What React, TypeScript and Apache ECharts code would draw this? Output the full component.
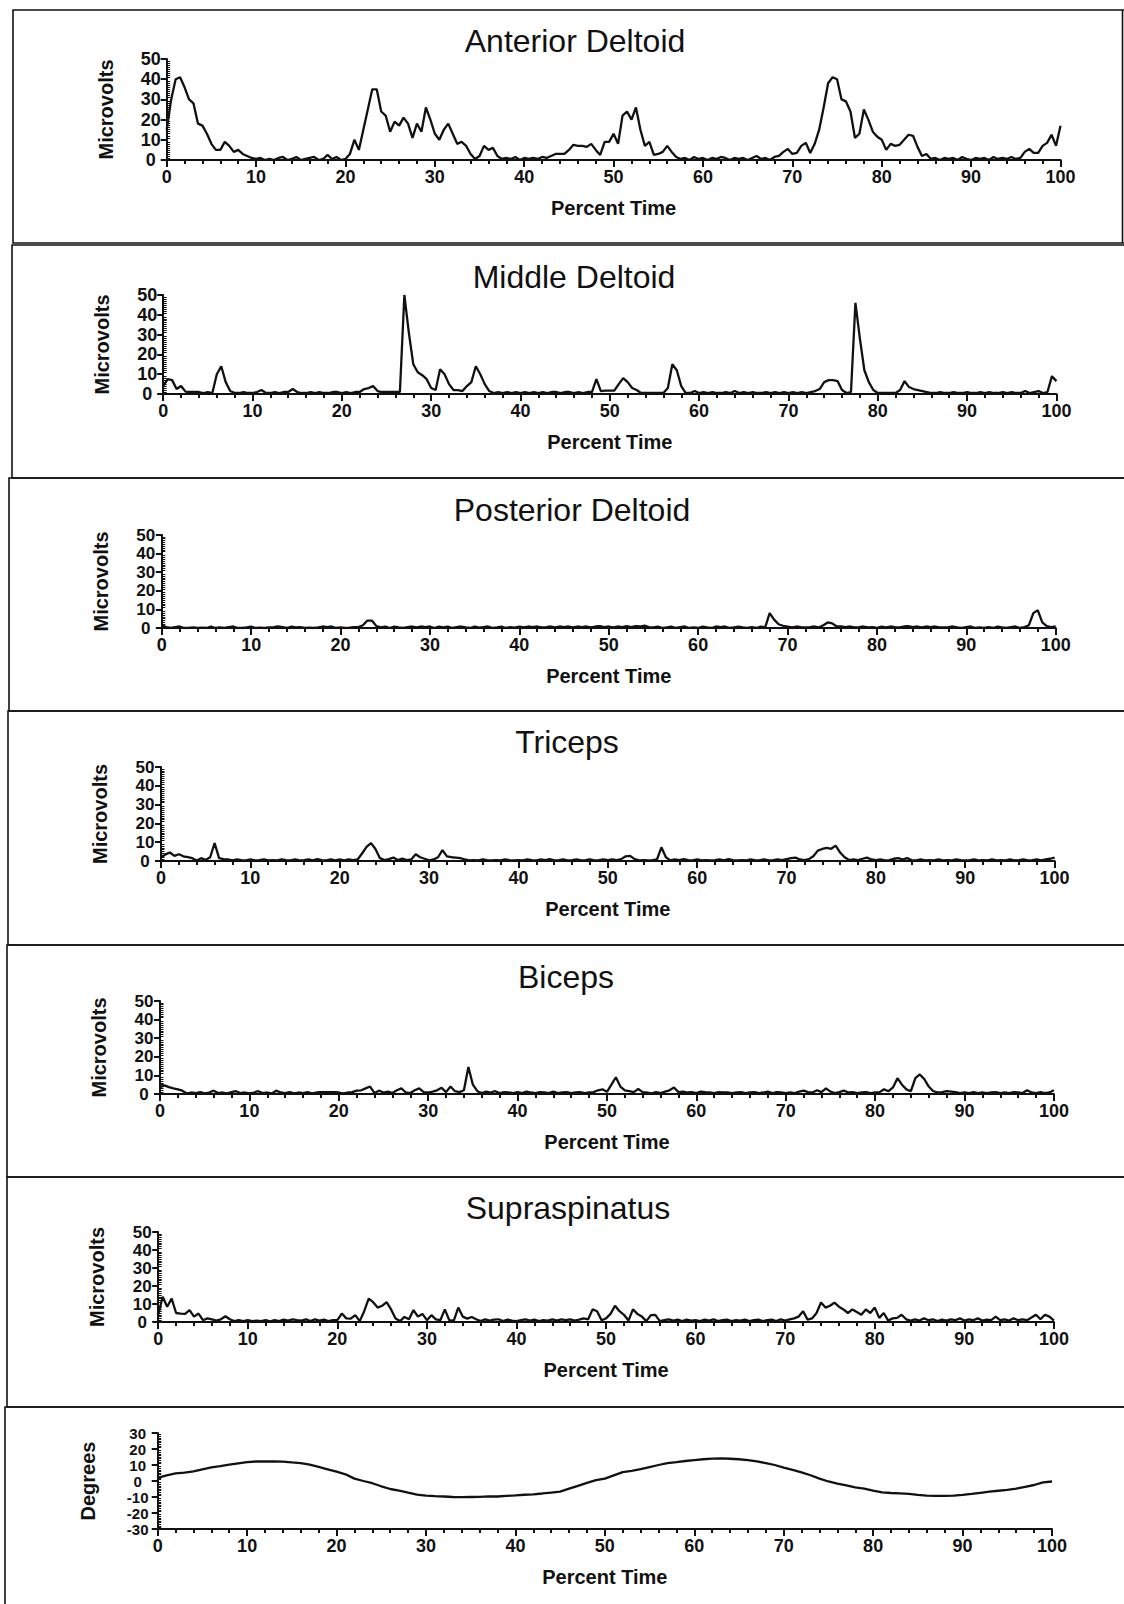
import React, { useEffect, useRef } from "react";
import * as echarts from "echarts";

// ---------- data ----------
// sample grid for the EMG traces: percent time 0, 0.5, 1, ... 100
const PERCENT_TIME: number[] = Array.from({ length: 201 }, (_, i) => i / 2);
// sample grid for the joint angle trace: 0, 1, ... 100
const DEGREE_TIME: number[] = Array.from({ length: 101 }, (_, i) => i);

const PANEL_TITLES = [
  "Anterior Deltoid",
  "Middle Deltoid",
  "Posterior Deltoid",
  "Triceps",
  "Biceps",
  "Supraspinatus",
];

const ANTERIOR_DELTOID = [
  15, 30, 40, 41, 36, 30, 28, 18, 17, 13, 8, 5, 5, 9, 7, 4, 5, 3, 2, 1,
  0.5, 1, 0, 0.5, 0, 1, 1.5, 0, 0.5, 1.5, 0, 0.5, 1, 1.5, 0, 0.5, 2.5, 0.5, 1.5, 0,
  0.5, 3, 10, 5, 15, 25, 35, 35, 24, 22, 14, 19, 17, 21, 18, 11, 18, 14, 26, 20,
  13, 10, 15, 18, 13, 8, 9, 7, 3, 0.5, 2, 7, 5, 6, 2, 0.5, 1, 0.5, 1.5, 0,
  1, 0.5, 1, 0.5, 1.5, 1, 2, 3, 3, 3, 5, 7.5, 7, 7, 6.5, 8, 5, 2.5, 9, 9,
  13, 8, 22, 24, 20, 26, 15, 7, 9, 2.5, 3, 4, 7, 4, 1.5, 0.5, 1, 0, 1.5, 0.5,
  1, 0, 1, 0.5, 1.5, 1, 0, 1, 0.5, 1, 0, 1, 2, 0.5, 1, 0, 1.5, 2, 4, 5.5,
  3, 3.5, 7, 8.5, 3.5, 8, 15, 26, 38, 41, 40, 30, 29, 24, 11, 13, 25, 20, 14, 11.5,
  10, 5, 8, 7, 7.5, 10, 12.5, 12, 6.5, 2, 3, 0.5, 1, 0, 1, 0.5, 1, 0, 1.5, 0.5,
  0, 1, 0.5, 1, 0, 1.5, 0.5, 1, 0.5, 1.5, 0.5, 1, 4, 5.5, 3.5, 3.5, 7, 8.5, 12.5, 7,
  17,
];

const MIDDLE_DELTOID = [
  4, 7.5, 7, 2.5, 4, 1.2, 1, 1, 1, 0.5, 1, 0.5, 10, 14, 6, 1.5, 0.5, 0.5, 1, 0.5,
  0.5, 1, 2, 0.5, 0.5, 1, 0.5, 1, 1, 2.5, 1, 0.5, 0.5, 1, 0.5, 1, 0.5, 0.5, 1, 1,
  0.5, 1, 0.5, 1, 1, 2.5, 3, 4, 1.5, 1, 1, 1, 1, 1, 50, 31, 15, 11, 9.5, 7.5,
  3, 2, 12.5, 10, 5, 2, 2, 1.5, 4, 6, 14, 10, 5, 1.5, 0.5, 1, 0.5, 1, 0.5, 1,
  0.5, 1, 0.5, 1, 0.5, 1, 0.5, 1, 1, 0.5, 1, 1, 0.5, 1, 0.5, 1, 1, 7.5, 1.5, 1.7,
  1.7, 1.7, 5, 8, 6, 3, 2, 0.5, 0.5, 0.5, 0.5, 0.5, 0.5, 3, 15, 12, 4, 0.5, 0.5, 1.5,
  0.5, 1, 0.5, 1, 0.5, 0.5, 1, 0.5, 1.5, 0.5, 1, 0.5, 1, 0.5, 0.5, 1, 0.5, 1, 0.5, 1,
  0.5, 1, 0.5, 1, 0.5, 1, 1.5, 2.5, 6, 7, 7, 6.5, 2, 0.5, 1, 46, 28, 12, 6, 2,
  0.5, 0.5, 0.5, 0.5, 0.5, 2, 6.5, 3.5, 2.5, 2, 1.5, 1, 0.5, 0.5, 1, 0.5, 0.5, 1, 0.5, 0.5,
  1, 0.5, 0.5, 1, 0.5, 1, 0.5, 0.5, 1, 0.5, 1, 0.5, 0.5, 1.5, 0.5, 1, 1.5, 0.5, 1, 9,
  6.5,
];

const POSTERIOR_DELTOID = [
  1.5, 0.5, 0, 0.5, 0.8, 0, 0, 0.3, 0, 0.2, 0, 0.8, 0, 0.3, 0, 0.5, 0.8, 0, 0, 0.3,
  0.8, 0, 0.2, 0, 0.3, 0.5, 0.8, 0.5, 0, 0.8, 0.3, 0.5, 0, 0.2, 0, 0.3, 0.8, 0.5, 0.8, 0,
  0.3, 0, 0.2, 0.5, 0.5, 1.5, 4, 4, 1, 0.3, 0.8, 0, 0.8, 0.3, 0, 0.5, 0.8, 0.3, 0.8, 0.5,
  0.8, 0, 0.8, 0.3, 0.8, 0, 0.5, 0.8, 0.3, 0, 0.8, 0.2, 0.5, 0.8, 0, 0.3, 0.8, 0, 0.5, 0.2,
  0.8, 0.3, 0.8, 0.5, 0.8, 0.3, 0.5, 0.8, 0.3, 0.8, 0.5, 0.8, 0.3, 0.8, 0.5, 0.8, 0.3, 0.8, 1, 0.5,
  0.8, 0.3, 0.8, 0.5, 1, 0.5, 1, 0.8, 1.3, 0.5, 0.3, 0.8, 0, 0.3, 0.8, 0, 0.5, 0.8, 0, 0.3,
  0, 0.8, 0.3, 0, 0.8, 0.5, 0.8, 0, 0.3, 0.8, 0.3, 0, 0.5, 0, 0.8, 0.3, 8, 4.5, 2, 1.2,
  0.8, 0.3, 0.8, 0.5, 0.3, 0.5, 0.8, 0.3, 1.5, 3, 2.5, 0.8, 0.8, 0.5, 0.8, 0.3, 0.5, 0.8, 0.3, 0.5,
  0, 0.8, 0.3, 0.8, 0.5, 0.3, 0.8, 1, 0.5, 0.8, 0.3, 0.8, 0.5, 0.8, 0.3, 0.3, 0.5, 0.8, 0.3, 0,
  0.5, 0.8, 0, 0.3, 0, 0.5, 0, 0.8, 0.3, 0, 0.5, 0.8, 0, 0.5, 1.5, 8, 9.5, 3, 1, 0.5,
  0.8,
];

const TRICEPS = [
  2, 3.5, 4.5, 2.7, 3.6, 2.5, 2, 1.5, 0.3, 1.5, 0.5, 2, 9.5, 1.5, 1, 0.8, 0.3, 0.8, 0.5, 0.3,
  0.8, 0.3, 0.5, 0.8, 0.3, 0.5, 0.3, 0.8, 0.5, 0.3, 0.8, 0.3, 0.5, 0.8, 0.3, 1, 0.5, 0.3, 0.8, 0.3,
  0.8, 0.3, 0.8, 0.5, 0.8, 4, 7.5, 9.5, 6.4, 1.5, 0.5, 1, 1.8, 0.5, 1.3, 0.5, 0.8, 3.6, 2, 1.2,
  0.3, 0.8, 2, 5.8, 2.5, 2, 1.8, 1.5, 0.8, 0.3, 0.5, 0.3, 0.8, 0.5, 0.3, 0.5, 0.3, 0.8, 0.5, 0.3,
  0.5, 0.3, 0.8, 0.5, 0.3, 0.8, 0.5, 1, 0.3, 0.5, 0.8, 0.3, 0.5, 0.8, 0.3, 0.5, 0.8, 0.3, 0.5, 0.8,
  0.5, 0.8, 0.5, 1, 2.5, 2.7, 1, 0.3, 0.5, 0.3, 0.5, 0.8, 7.3, 2, 0.3, 0.8, 0.5, 1, 0.5, 0.3,
  0.8, 0.3, 0.5, 0.3, 0.5, 0.8, 0.3, 1, 0.5, 0.3, 0.5, 0.3, 0.8, 0.3, 0.5, 0.8, 0.3, 0.5, 0.8, 0.5,
  1, 1.5, 1.8, 0.8, 0.5, 1, 2.5, 5.5, 6.4, 7, 6.5, 8.2, 4.5, 2, 0.5, 0.8, 0.5, 1.2, 1.8, 0.8,
  0.5, 0.8, 0.3, 0.5, 1.2, 1.5, 0.8, 1.5, 0.5, 0.3, 0.8, 0.3, 0.5, 0.3, 0.8, 0.3, 0.5, 0.3, 0.8, 0.5,
  0.3, 0.5, 0.8, 0.3, 0.5, 0.3, 0.8, 0.3, 0.5, 0.3, 0.8, 0.3, 0.5, 0.8, 0.3, 0.5, 0.8, 0.3, 0.8, 1.2,
  1.8,
];

const BICEPS = [
  3.7, 4.6, 3.7, 3, 2.5, 1.8, 0.3, 0.8, 0.5, 1, 0.3, 0.8, 1.8, 0.5, 0.8, 0.3, 1, 1.5, 0.5, 0.8,
  0.3, 0.8, 1.5, 0.5, 0.8, 0.3, 1.8, 0.8, 0.5, 1, 0.3, 0.8, 0.5, 1, 0.3, 0.8, 1, 1, 1, 1,
  0.8, 0.3, 0.8, 1, 1.8, 2, 3, 4, 0.5, 1.8, 0.8, 1.3, 0.5, 2, 3, 0.8, 0.5, 2, 3, 1,
  0.8, 1.3, 2, 3.3, 1, 4, 1.5, 1, 2, 14.5, 5, 1.5, 0.5, 1.3, 0.8, 1.5, 0.5, 1, 0.8, 0.5,
  1, 0.5, 1.3, 0.8, 0.5, 1, 0.8, 0.5, 1.3, 0.5, 0.8, 1, 0.5, 0.8, 1, 0.5, 0.8, 1, 2, 2.5,
  1.2, 5, 9, 4, 2, 1.5, 1, 2.7, 1, 0.8, 0.3, 1, 0.5, 1.3, 2, 3.5, 1, 1.3, 0.8, 1,
  0.5, 1.3, 1, 0.8, 0.5, 1, 0.8, 0.8, 0.5, 0.8, 1, 0.5, 0.8, 1, 0.5, 0.8, 1.3, 0.5, 1, 0.8,
  0.5, 0.8, 0.5, 1.3, 1.8, 1, 0.8, 2, 1, 3, 1.3, 0.5, 1, 1.8, 0.8, 1, 0.5, 0.8, 1, 0.5,
  0.8, 1, 2.5, 1.5, 3.5, 8.5, 5, 2.5, 1.5, 8.5, 10.5, 8, 4, 1.5, 0.8, 1, 1.5, 1.3, 1, 0.5,
  0.8, 0.5, 1, 0.5, 0.8, 0.5, 0.8, 1, 0.5, 0.8, 0.5, 1, 0.8, 0.5, 2, 0.8, 0.5, 1, 0.5, 0.8,
  2,
];

const SUPRASPINATUS = [
  4, 14, 8.5, 13, 5, 4.7, 4.5, 6.6, 3, 4.7, 1, 2, 1.5, 0.8, 1.5, 3.2, 1.5, 0.5, 1, 0.5,
  1, 0.5, 0.8, 0.5, 1, 0.3, 1, 0.5, 1.3, 0.8, 1.5, 1, 0.8, 1.5, 0.5, 1.5, 0.8, 1.3, 0.5, 1,
  1, 4.7, 2, 1.9, 3.8, 0.5, 6, 13, 11, 8, 9, 11, 7, 2, 0.5, 2.8, 1.5, 6.6, 3, 4.5,
  1, 3.8, 1.5, 1, 7, 1, 0.8, 8, 3, 1.9, 2.8, 1.5, 0.5, 1.5, 0.8, 1.3, 1.5, 0.5, 1.3, 0.8,
  0.5, 1, 1.5, 0.8, 1.3, 0.5, 1, 0.8, 1.5, 0.8, 1.5, 1, 1.5, 0.8, 1.3, 2, 1.5, 7, 6, 1,
  2, 4.5, 9, 6, 4, 0.8, 7, 4.5, 3, 0.5, 3.8, 4, 0.5, 1, 1.5, 0.8, 1.3, 0.5, 1.3, 0.8,
  1, 0.5, 1.3, 0.8, 1.5, 0.5, 1, 1.3, 0.5, 1, 0.8, 1.3, 0.5, 1, 1.3, 0.5, 1, 1.3, 0.5, 1.5,
  0.8, 1.5, 2, 3, 6, 1.3, 2, 5, 10.8, 8, 9, 10.8, 8.5, 7, 5, 7, 5.5, 4, 7, 5,
  8, 2.3, 5, 0.8, 2, 2.3, 4, 1.5, 0.8, 1.5, 0.8, 2, 1, 1.5, 0.5, 1.3, 0.8, 1.5, 1, 2,
  0.8, 1.5, 1, 2, 0.8, 1.3, 1, 3, 1, 1.5, 0.8, 2, 1, 1.5, 1, 2.5, 4, 1.5, 4, 3,
  0.8,
];

const SHOULDER_ANGLE = [
  2, 3.5, 4.7, 5.3, 6, 7.3, 8.5, 9.3, 10.2, 11,
  11.8, 12.2, 12.2, 12.2, 12.1, 11.6, 11.2, 10.2, 8.8, 7.3,
  5.8, 4.2, 1.5, 0, -1.4, -3.3, -5, -6, -7.3, -8.5,
  -9.2, -9.5, -9.7, -10, -10.1, -10, -9.9, -9.6, -9.7, -9.3,
  -9, -8.6, -8.3, -7.8, -7.2, -6.6, -4.8, -3, -1.2, 0.5,
  1.5, 3.5, 5.5, 6.3, 7.4, 8.7, 10, 11.2, 11.8, 12.5,
  13.1, 13.6, 14, 14.1, 13.9, 13.6, 13, 12.3, 11.2, 10,
  8.4, 7, 5.4, 3.6, 1.5, -0.3, -1.7, -2.8, -4, -4.7,
  -6, -7.1, -7.5, -7.7, -8, -8.7, -9.1, -9.3, -9.3, -9.2,
  -8.7, -8.1, -7.4, -6.7, -6.1, -5.5, -4.7, -3.6, -2.5, -0.8,
  -0.3,
];

const EMG_SERIES = [
  ANTERIOR_DELTOID,
  MIDDLE_DELTOID,
  POSTERIOR_DELTOID,
  TRICEPS,
  BICEPS,
  SUPRASPINATUS,
];

// ---------- layout (pixels) ----------
const W = 1124;
const H = 1604;
const LAYOUT = [
  { left: 166.7, right: 1060.5, top: 59, bottom: 160, tx: 575, ty: 41, bx: 13, by0: 10, by1: 243, yfs: 18 },
  { left: 163.2, right: 1056.4, top: 295, bottom: 394, tx: 574, ty: 277, bx: 12, by0: 245, by1: 478, yfs: 18 },
  { left: 161.8, right: 1055.7, top: 535, bottom: 628, tx: 572, ty: 510, bx: 9, by0: 478, by1: 711, yfs: 17 },
  { left: 161, right: 1054.6, top: 767, bottom: 861, tx: 567, ty: 742, bx: 8, by0: 711, by1: 945, yfs: 17 },
  { left: 160, right: 1053.9, top: 1001, bottom: 1094, tx: 566, ty: 977, bx: 7, by0: 945, by1: 1177, yfs: 17 },
  { left: 158.2, right: 1053.9, top: 1232, bottom: 1322, tx: 568, ty: 1208, bx: 7, by0: 1177, by1: 1407, yfs: 17 },
  { left: 157.7, right: 1052, top: 1433, bottom: 1529, tx: 0, ty: 0, bx: 5, by0: 1407, by1: 1640, yfs: 15 },
];

const INK = "#111111";
const FONT = '"Liberation Sans", Arial, sans-serif';

function buildOption() {
  const grid: any[] = [];
  const xAxis: any[] = [];
  const yAxis: any[] = [];
  const series: any[] = [];
  const graphic: any[] = [];

  LAYOUT.forEach((L, i) => {
    const isAngle = i === 6;
    grid.push({
      left: L.left,
      top: L.top,
      width: L.right - L.left,
      height: L.bottom - L.top,
      containLabel: false,
      outerBoundsMode: "none",
    });
    xAxis.push({
      type: "value",
      gridIndex: i,
      min: 0,
      max: 100,
      interval: 10,
      name: "Percent Time",
      nameLocation: "middle",
      nameGap: 38,
      nameMoveOverlap: false,
      nameTextStyle: { fontFamily: FONT, fontSize: 20, fontWeight: "bold", color: INK },
      axisLine: { show: true, onZero: false, lineStyle: { color: INK, width: 2 } },
      axisTick: { show: true, length: 7, lineStyle: { color: INK, width: 2 } },
      minorTick: { show: true, splitNumber: 5, length: 4, lineStyle: { color: INK, width: 2 } },
      axisLabel: {
        margin: 8,
        showMinLabel: true,
        showMaxLabel: true,
        fontFamily: FONT,
        fontSize: 18,
        fontWeight: "bold",
        color: INK,
      },
      splitLine: { show: false },
      minorSplitLine: { show: false },
    });
    const ymin = isAngle ? -30 : 0;
    const ymax = isAngle ? 30 : 50;
    yAxis.push({
      type: "value",
      gridIndex: i,
      position: "left",
      min: ymin,
      max: ymax,
      interval: 10,
      name: isAngle ? "Degrees" : "Microvolts",
      nameLocation: "middle",
      nameRotate: 90,
      nameGap: isAngle ? 60 : 51,
      nameMoveOverlap: false,
      nameTextStyle: { fontFamily: FONT, fontSize: 20, fontWeight: "bold", color: INK },
      axisLine: { show: true, onZero: false, lineStyle: { color: INK, width: 2 } },
      axisTick: { show: true, length: 6, lineStyle: { color: INK, width: 2 } },
      axisLabel: {
        margin: isAngle ? 20 : 16,
        align: "center",
        showMinLabel: true,
        showMaxLabel: true,
        hideOverlap: false,
        fontFamily: FONT,
        fontSize: L.yfs,
        lineHeight: L.yfs,
        fontWeight: "bold",
        color: INK,
      },
      splitLine: { show: false },
    });
    // overlay axis that only draws the inward minor ticks of the y axis
    yAxis.push({
      type: "value",
      gridIndex: i,
      position: "left",
      min: ymin,
      max: ymax,
      interval: 10,
      axisLine: { show: false, onZero: false },
      axisTick: { show: false, inside: true },
      axisLabel: { show: false },
      minorTick: { show: true, splitNumber: 10, length: 3.5, lineStyle: { color: INK, width: 1 } },
      splitLine: { show: false },
      minorSplitLine: { show: false },
    });

    const values = isAngle ? SHOULDER_ANGLE : EMG_SERIES[i];
    const times = isAngle ? DEGREE_TIME : PERCENT_TIME;
    series.push({
      type: "line",
      name: isAngle ? "Degrees" : PANEL_TITLES[i],
      xAxisIndex: i,
      yAxisIndex: i * 2,
      data: times.map((t, k) => [t, values[k]]),
      showSymbol: false,
      symbol: "none",
      clip: true,
      lineStyle: { color: INK, width: 2.3 },
    });

    // panel frame
    graphic.push({
      type: "rect",
      shape: { x: L.bx, y: L.by0, width: W + 20 - L.bx, height: L.by1 - L.by0 },
      style: { fill: "none", stroke: INK, lineWidth: 1.6 },
      silent: true,
    });
    if (!isAngle) {
      graphic.push({
        type: "text",
        x: L.tx,
        y: L.ty,
        style: {
          text: PANEL_TITLES[i],
          fontFamily: FONT,
          fontSize: 32,
          fill: INK,
          align: "center",
          verticalAlign: "middle",
        },
        silent: true,
      });
    }
  });
  // right edge of the first frame, visible at the page border
  graphic.push({
    type: "line",
    shape: { x1: W - 1.5, y1: LAYOUT[0].by0, x2: W - 1.5, y2: LAYOUT[0].by1 },
    style: { stroke: INK, lineWidth: 1.6 },
    silent: true,
  });

  return {
    animation: false,
    backgroundColor: "#ffffff",
    grid,
    xAxis,
    yAxis,
    series,
    graphic,
  };
}

export default function App() {
  const ref = useRef<HTMLDivElement>(null);
  useEffect(() => {
    if (!ref.current) return;
    const chart = echarts.init(ref.current, null, { renderer: "svg", width: W, height: H });
    chart.setOption(buildOption() as any);
    return () => chart.dispose();
  }, []);
  return (
    <div
      ref={ref}
      style={{ position: "absolute", left: 0, top: 0, width: W, height: H, background: "#fff" }}
    />
  );
}
